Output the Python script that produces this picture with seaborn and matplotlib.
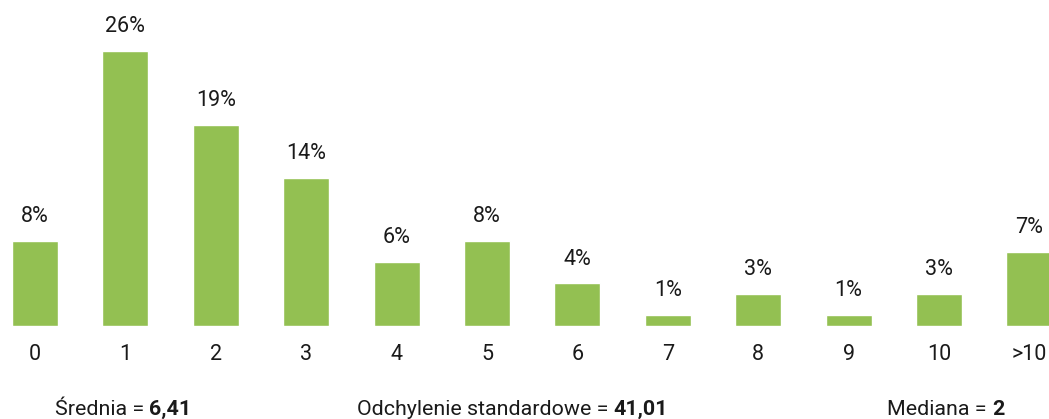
import matplotlib
matplotlib.use("Agg")
import matplotlib.pyplot as plt
import seaborn as sns

# Data
categories = ["0", "1", "2", "3", "4", "5", "6", "7", "8", "9", "10", ">10"]
shares = [8, 26, 19, 14, 6, 8, 4, 1, 3, 1, 3, 7]
bar_labels = [f"{v}%" for v in shares]

stat_names = ["Średnia = ", "Odchylenie standardowe = ", "Mediana = "]
stat_values = ["6,41", "41,01", "2"]

sns.set_style("white")
plt.rcParams["font.family"] = ["Roboto", "DejaVu Sans"]

fig = plt.figure(figsize=(10.49, 4.19), dpi=100)
ax = fig.add_axes([0, 0.2227, 1, 0.7773])

sns.barplot(x=categories, y=shares, color="#93C052", saturation=1,
            width=0.51, ax=ax)

ax.bar_label(ax.containers[0], labels=bar_labels, padding=10,
             fontsize=15.5, color="#1a1a1a")

ax.set_xlim(-0.387, 11.217)
ax.set_ylim(0, 30.8)
ax.set_yticks([])
ax.set_xlabel("")
ax.set_ylabel("")
ax.tick_params(axis="x", length=0, pad=13, labelsize=15.5, labelcolor="#1a1a1a")
sns.despine(ax=ax, left=True, bottom=True)

# Summary statistics under the chart: plain name + bold value
renderer = fig.canvas.get_renderer()
y_base = 0.009
for name, value, x0 in zip(stat_names, stat_values, [0.0524, 0.340, 0.8456]):
    t = fig.text(x0, y_base, name, ha="left", va="baseline",
                 fontsize=15.4, color="#1a1a1a")
    x1 = t.get_window_extent(renderer).x1 / fig.bbox.width
    fig.text(x1, y_base, value, ha="left", va="baseline", fontsize=15.4,
             fontweight="bold", color="#1a1a1a")

fig.savefig("out.png", dpi=100)
